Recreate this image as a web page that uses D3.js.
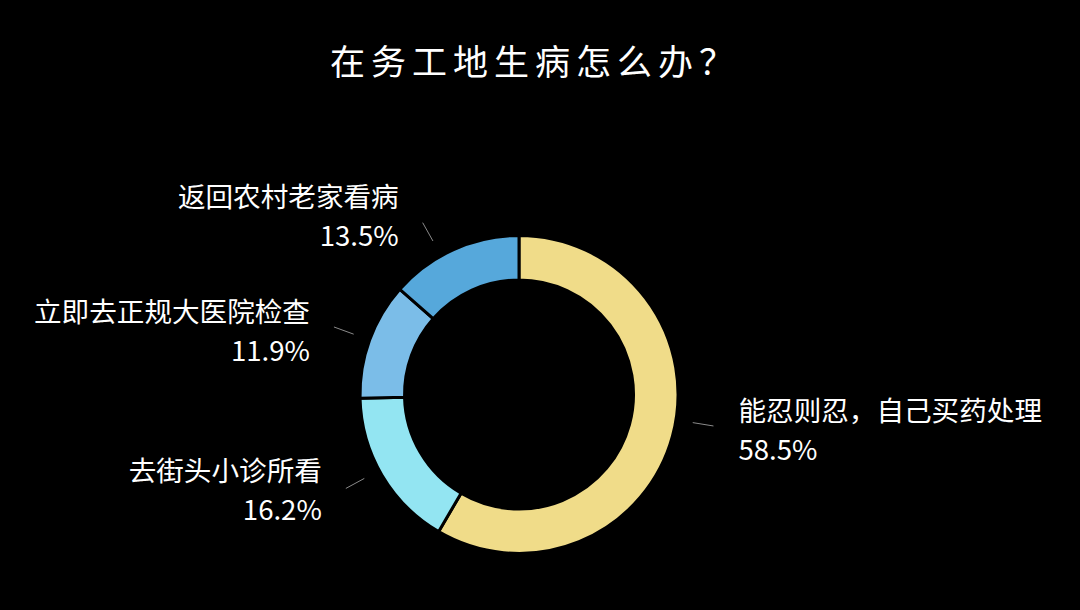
<!DOCTYPE html>
<html lang="zh">
<head>
<meta charset="UTF-8">
<title>在务工地生病怎么办？</title>
<script src="https://cdn.jsdelivr.net/npm/d3@7"></script>
<style>
  html, body { margin: 0; padding: 0; background: #000; }
  svg { display: block; font-family: "Noto Sans CJK SC", "Noto Sans", sans-serif; }
</style>
</head>
<body>
<script>
const categories = ["能忍则忍，自己买药处理", "去街头小诊所看", "立即去正规大医院检查", "返回农村老家看病"];
const shares = [58.5, 16.2, 11.9, 13.5];
const shareLabels = ["58.5%", "16.2%", "11.9%", "13.5%"];
const colors = ["#F0DC89", "#93E5F2", "#7BBDE8", "#56A8DB"];

const width = 1080, height = 610;
const cx = 519, cy = 394.5;
const outerR = 159, innerR = 114.5;

// small per-label tweaks so the text sits where the original puts it
const angleNudge = [-6, 2, 0, -5];
const labelShift = [0, -2, 0, -11];

const data = categories.map((name, i) => ({name, value: shares[i], label: shareLabels[i], color: colors[i], i}));

const svg = d3.select("body").append("svg")
    .attr("width", width)
    .attr("height", height)
    .style("background", "#000");

svg.append("text")
    .attr("x", 330)
    .attr("y", 75)
    .attr("fill", "#fff")
    .style("font-size", "35px")
    .style("letter-spacing", "6px")
    .text("在务工地生病怎么办？");

const pie = d3.pie().value(d => d.value).sort(null);
const arc = d3.arc().innerRadius(innerR).outerRadius(outerR);
const arcs = pie(data);

const g = svg.append("g").attr("transform", `translate(${cx},${cy})`);

g.selectAll("path")
    .data(arcs)
    .enter()
    .append("path")
    .attr("d", arc)
    .attr("fill", d => d.data.color)
    .attr("stroke", "#000")
    .attr("stroke-width", 3);

const polar = (a, r) => [Math.sin(a) * r, -Math.cos(a) * r];

arcs.forEach(d => {
    const a = (d.startAngle + d.endAngle) / 2 + angleNudge[d.data.i] * Math.PI / 180;
    const [x1, y1] = polar(a, 176);
    const [x2, y2] = polar(a, 197);
    g.append("line")
        .attr("x1", x1).attr("y1", y1)
        .attr("x2", x2).attr("y2", y2)
        .attr("stroke", "#8a8a8a")
        .attr("stroke-width", 1);

    const right = Math.sin(a) > 0;
    const tx = x2 + (right ? 25 : -24);
    const ty = y2 + labelShift[d.data.i];
    const t = g.append("text")
        .attr("fill", "#fff")
        .attr("text-anchor", right ? "start" : "end")
        .style("font-size", "27.6px");
    t.append("tspan").attr("x", tx).attr("y", ty - 5).text(d.data.name);
    t.append("tspan").attr("x", tx).attr("y", ty + 34).text(d.data.label);
});
</script>
</body>
</html>
